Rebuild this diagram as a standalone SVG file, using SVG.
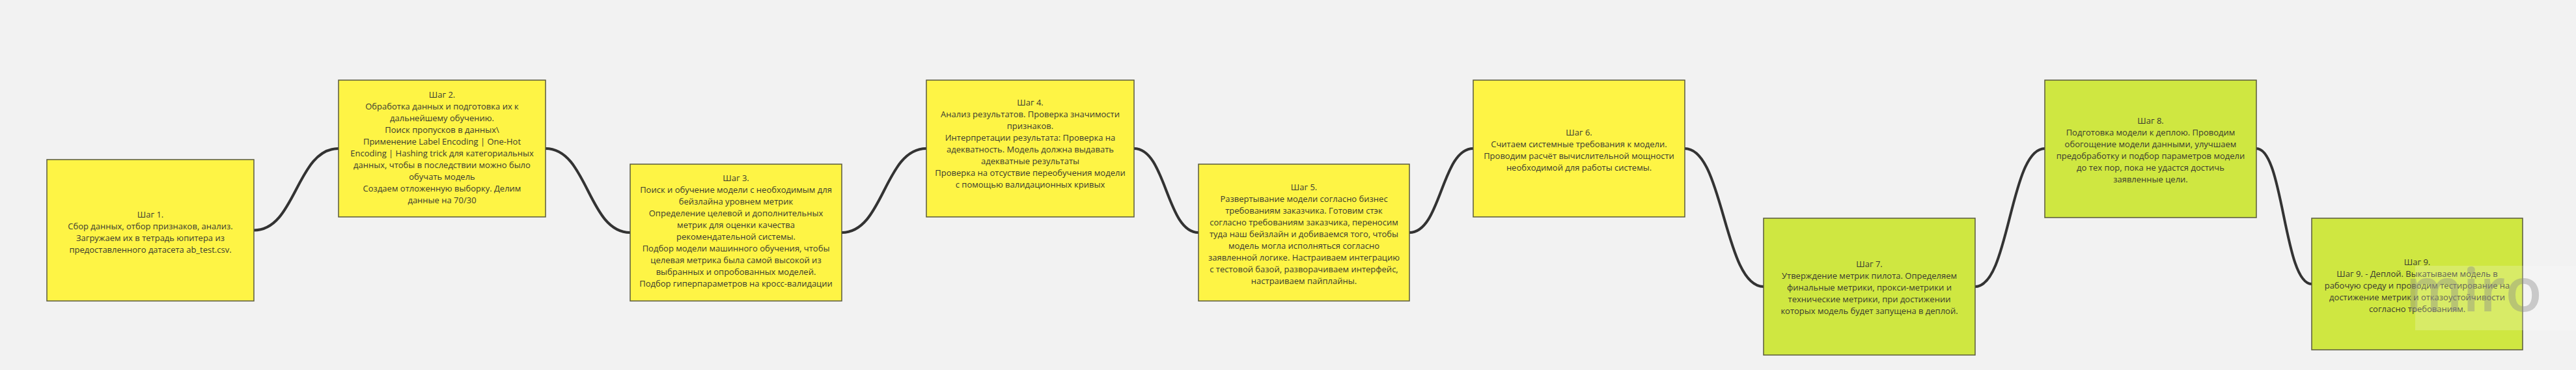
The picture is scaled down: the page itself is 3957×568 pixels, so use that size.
<svg xmlns="http://www.w3.org/2000/svg" width="3957" height="568" viewBox="0 0 3957 568">
<style>
.bg{fill:#f2f2f2}
.y{fill:#fef445;stroke:#5a5a3c;stroke-width:1.5}
.g{fill:#cfe741;stroke:#5a5a3c;stroke-width:1.5}
.t{font-family:"Open Sans","Noto Sans","Liberation Sans",sans-serif;font-size:13px;fill:#3a3a30;text-anchor:middle}
.c{fill:none;stroke:#333333;stroke-width:4;stroke-linecap:round}
</style>
<rect class="bg" x="0" y="0" width="3957" height="568"/>
<g id="connectors">
<path class="c" d="M390,353.5 C455,353.5 455,228 520,228"/>
<path class="c" d="M838,228 C903,228 903,357 968,357"/>
<path class="c" d="M1293,357 C1358,357 1358,228 1423,228"/>
<path class="c" d="M1742,228 C1791.5,228 1791.5,357 1841,357"/>
<path class="c" d="M2165,357 C2214,357 2214,228 2263,228"/>
<path class="c" d="M2588,228 C2648,228 2648,440 2709,440"/>
<path class="c" d="M3034,440 C3087,440 3087,228 3141,228"/>
<path class="c" d="M3466,228 C3508,228 3508,436 3551,436"/>
</g>
<g id="step1">
<rect class="y" x="72" y="245" width="318" height="217"/>
<text class="t" x="231" y="333.5"><tspan x="231">Шаг 1.</tspan><tspan x="231" dy="18">Сбор данных, отбор признаков, анализ.</tspan><tspan x="231" dy="18">Загружаем их в тетрадь юпитера из</tspan><tspan x="231" dy="18">предоставленного датасета ab_test.csv.</tspan></text>
</g>
<g id="step2">
<rect class="y" x="520" y="123" width="318" height="210"/>
<text class="t" x="679" y="150"><tspan x="679">Шаг 2.</tspan><tspan x="679" dy="18">Обработка данных и подготовка их к</tspan><tspan x="679" dy="18">дальнейшему обучению.</tspan><tspan x="679" dy="18">Поиск пропусков в данных\</tspan><tspan x="679" dy="18">Применение Label Encoding | One-Hot</tspan><tspan x="679" dy="18">Encoding | Hashing trick для категориальных</tspan><tspan x="679" dy="18">данных, чтобы в последствии можно было</tspan><tspan x="679" dy="18">обучать модель</tspan><tspan x="679" dy="18">Создаем отложенную выборку. Делим</tspan><tspan x="679" dy="18">данные на 70/30</tspan></text>
</g>
<g id="step3">
<rect class="y" x="968" y="252" width="325" height="210"/>
<text class="t" x="1130.5" y="278"><tspan x="1130.5">Шаг 3.</tspan><tspan x="1130.5" dy="18">Поиск и обучение модели с необходимым для</tspan><tspan x="1130.5" dy="18">бейзлайна уровнем метрик</tspan><tspan x="1130.5" dy="18">Определение целевой и дополнительных</tspan><tspan x="1130.5" dy="18">метрик для оценки качества</tspan><tspan x="1130.5" dy="18">рекомендательной системы.</tspan><tspan x="1130.5" dy="18">Подбор модели машинного обучения, чтобы</tspan><tspan x="1130.5" dy="18">целевая метрика была самой высокой из</tspan><tspan x="1130.5" dy="18">выбранных и опробованных моделей.</tspan><tspan x="1130.5" dy="18">Подбор гиперпараметров на кросс-валидации</tspan></text>
</g>
<g id="step4">
<rect class="y" x="1423" y="123" width="319" height="210"/>
<text class="t" x="1582.5" y="162"><tspan x="1582.5">Шаг 4.</tspan><tspan x="1582.5" dy="18">Анализ результатов. Проверка значимости</tspan><tspan x="1582.5" dy="18">признаков.</tspan><tspan x="1582.5" dy="18">Интерпретации результата: Проверка на</tspan><tspan x="1582.5" dy="18">адекватность. Модель должна выдавать</tspan><tspan x="1582.5" dy="18">адекватные результаты</tspan><tspan x="1582.5" dy="18">Проверка на отсуствие переобучения модели</tspan><tspan x="1582.5" dy="18">с помощью валидационных кривых</tspan></text>
</g>
<g id="step5">
<rect class="y" x="1841" y="252" width="324" height="210"/>
<text class="t" x="2003" y="292"><tspan x="2003">Шаг 5.</tspan><tspan x="2003" dy="18">Развертывание модели согласно бизнес</tspan><tspan x="2003" dy="18">требованиям заказчика. Готовим стэк</tspan><tspan x="2003" dy="18">согласно требованиям заказчика, переносим</tspan><tspan x="2003" dy="18">туда наш бейзлайн и добиваемся того, чтобы</tspan><tspan x="2003" dy="18">модель могла исполняться согласно</tspan><tspan x="2003" dy="18">заявленной логике. Настраиваем интеграцию</tspan><tspan x="2003" dy="18">с тестовой базой, разворачиваем интерфейс,</tspan><tspan x="2003" dy="18">настраиваем пайплайны.</tspan></text>
</g>
<g id="step6">
<rect class="y" x="2263" y="123" width="325" height="210"/>
<text class="t" x="2425.5" y="208"><tspan x="2425.5">Шаг 6.</tspan><tspan x="2425.5" dy="18">Считаем системные требования к модели.</tspan><tspan x="2425.5" dy="18">Проводим расчёт вычислительной мощности</tspan><tspan x="2425.5" dy="18">необходимой для работы системы.</tspan></text>
</g>
<g id="step7">
<rect class="g" x="2709" y="335" width="325" height="210"/>
<text class="t" x="2871.5" y="410"><tspan x="2871.5">Шаг 7.</tspan><tspan x="2871.5" dy="18">Утверждение метрик пилота. Определяем</tspan><tspan x="2871.5" dy="18">финальные метрики, прокси-метрики и</tspan><tspan x="2871.5" dy="18">технические метрики, при достижении</tspan><tspan x="2871.5" dy="18">которых модель будет запущена в деплой.</tspan></text>
</g>
<g id="step8">
<rect class="g" x="3141" y="123" width="325" height="211"/>
<text class="t" x="3303.5" y="190"><tspan x="3303.5">Шаг 8.</tspan><tspan x="3303.5" dy="18">Подготовка модели к деплою. Проводим</tspan><tspan x="3303.5" dy="18">обогощение модели данными, улучшаем</tspan><tspan x="3303.5" dy="18">предобработку и подбор параметров модели</tspan><tspan x="3303.5" dy="18">до тех пор, пока не удастся достичь</tspan><tspan x="3303.5" dy="18">заявленные цели.</tspan></text>
</g>
<g id="step9">
<rect class="g" x="3551" y="335" width="324" height="202"/>
<text class="t" x="3713" y="406.5"><tspan x="3713">Шаг 9.</tspan><tspan x="3713" dy="18">Шаг 9. - Деплой. Выкатываем модель в</tspan><tspan x="3713" dy="18">рабочую среду и проводим тестирование на</tspan><tspan x="3713" dy="18">достижение метрик и отказоустойчивости</tspan><tspan x="3713" dy="18">согласно требованиям.</tspan></text>
</g>
<g id="watermark">
<rect x="3710" y="408" width="247" height="99" fill="#ffffff" fill-opacity="0.2"/>
<text x="3800" y="478" font-family="'Open Sans','Noto Sans',sans-serif" font-size="92" font-weight="600" fill="#8a8a8a" fill-opacity="0.4" text-anchor="middle">miro</text>
</g>
</svg>
